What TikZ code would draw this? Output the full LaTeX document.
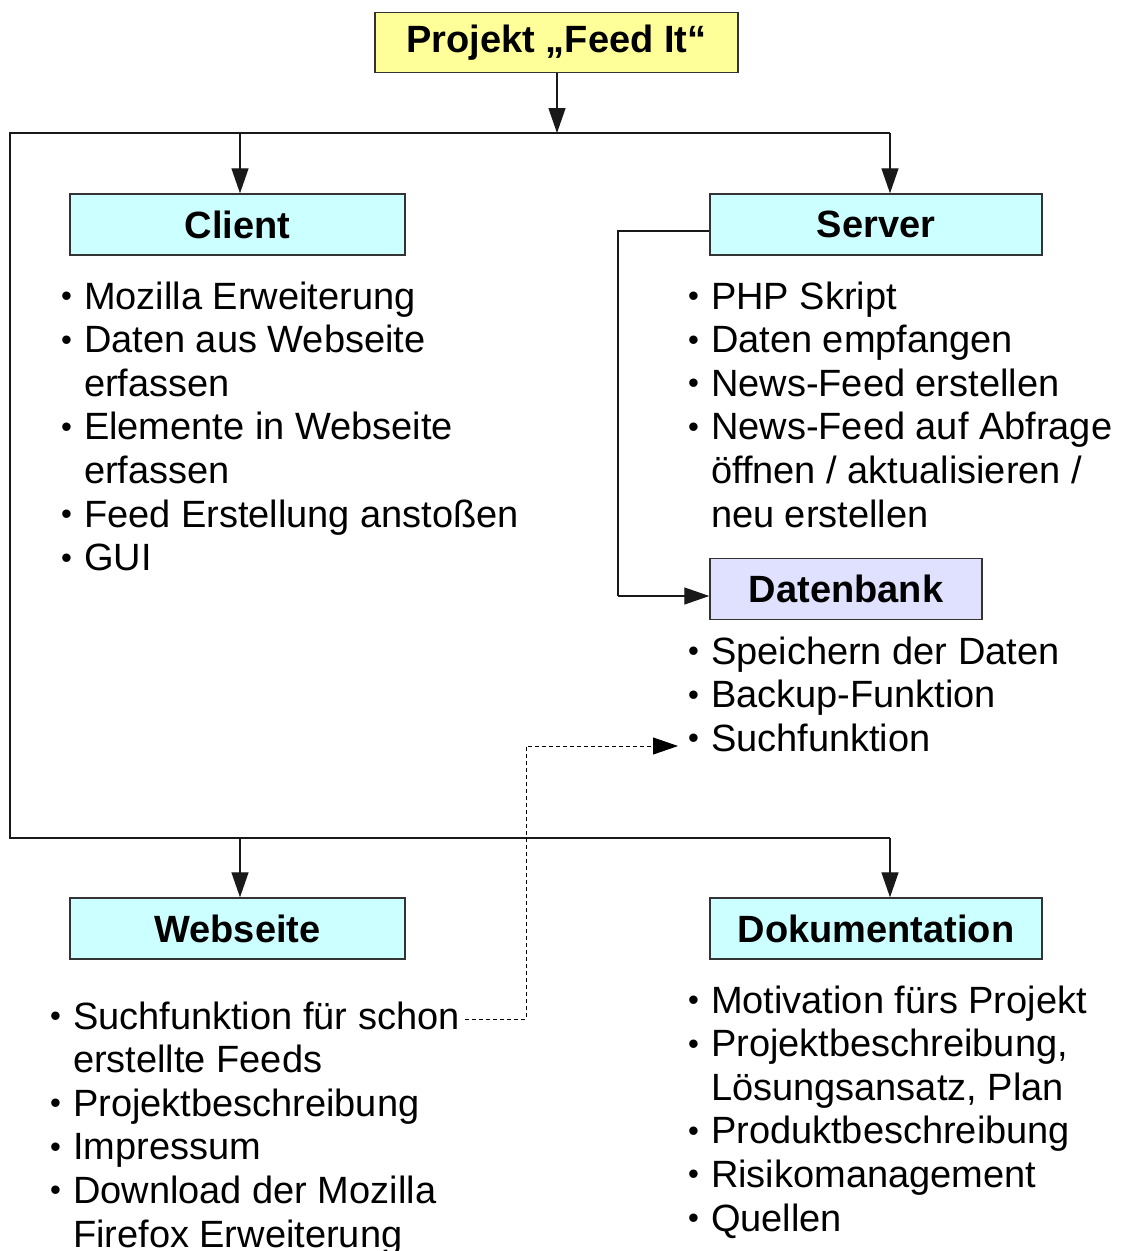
\documentclass[tikz,border=0pt]{standalone}
\usepackage{fontspec}
\setmainfont{Liberation Sans}
\usetikzlibrary{arrows.meta}
\definecolor{boxcyan}{HTML}{CCFFFF}
\definecolor{boxyellow}{HTML}{FFFF99}
\definecolor{boxlav}{HTML}{E0E0FF}
\definecolor{edge}{HTML}{333333}
\newcommand\bdot{\hspace*{2pt}\raisebox{2.5pt}{\fontsize{31}{31}\selectfont •}}
\newcommand\bitem[1]{\hbox{\makebox[25pt][l]{\bdot}#1}}
\newcommand\bcont[1]{\hbox{\hspace*{25pt}#1}}
\begin{document}
\begin{tikzpicture}[x=1pt,y=-1pt,
  hbox/.style={draw=edge, line width=1.4pt, inner sep=0pt, minimum height=61pt,
    font=\fontsize{38}{44}\selectfont\bfseries},
  lst/.style={anchor=base west, inner sep=0pt, outer sep=0pt,
    font=\fontsize{38}{43.6}\selectfont},
  conn/.style={line width=1.3pt, draw=black!90},
  arr/.style={conn, -{Triangle[length=25pt,width=17pt]}},
  darr/.style={line width=0.9pt, dash pattern=on 4pt off 3pt, -{Triangle[length=25pt,width=17pt]}}]
\useasboundingbox (0,0) rectangle (1122,1251);

% boxes
\node[hbox, fill=boxyellow, minimum width=363pt, minimum height=60pt] (title) at (556.5,42.5) {Projekt „Feed It“};
\node[hbox, fill=boxcyan, minimum width=335pt] (client) at (237.5,224.5) {Client};
\node[hbox, fill=boxcyan, minimum width=332pt] (server) at (876,224.5) {Server};
\node[hbox, fill=boxlav, minimum width=272pt] (db) at (846,589) {Datenbank};
\node[hbox, fill=boxcyan, minimum width=335pt] (web) at (237.5,928.5) {Webseite};
\node[hbox, fill=boxcyan, minimum width=332pt] (doku) at (876,928.5) {Dokumentation};

% lists
\node[lst] (clientlist) at (59,309) {\vtop{%
  \bitem{Mozilla Erweiterung}
  \bitem{Daten aus Webseite}
  \bcont{erfassen}
  \bitem{Elemente in Webseite}
  \bcont{erfassen}
  \bitem{Feed Erstellung anstoßen}
  \bitem{GUI}}};
\node[lst] (serverlist) at (686,309) {\vtop{%
  \bitem{PHP Skript}
  \bitem{Daten empfangen}
  \bitem{News-Feed erstellen}
  \bitem{News-Feed auf Abfrage}
  \bcont{öffnen / aktualisieren /}
  \bcont{neu erstellen}}};
\node[lst] (dblist) at (686,664) {\vtop{%
  \bitem{Speichern der Daten}
  \bitem{Backup-Funktion}
  \bitem{Suchfunktion}}};
\node[lst] (weblist) at (48,1029) {\vtop{%
  \bitem{Suchfunktion für schon}
  \bcont{erstellte Feeds}
  \bitem{Projektbeschreibung}
  \bitem{Impressum}
  \bitem{Download der Mozilla}
  \bcont{Firefox Erweiterung}}};
\node[lst] (dokulist) at (686,1013) {\vtop{%
  \bitem{Motivation fürs Projekt}
  \bitem{Projektbeschreibung,}
  \bcont{Lösungsansatz, Plan}
  \bitem{Produktbeschreibung}
  \bitem{Risikomanagement}
  \bitem{Quellen}}};

% tree coordinates
\coordinate (top) at (557,133);
\coordinate (tl) at (10,133);
\coordinate (tr) at (890,133);
\coordinate (tc) at (240,133);
\coordinate (bl) at (10,838);
\coordinate (br) at (890,838);
\coordinate (bc) at (240,838);
\coordinate (sbend) at (618,231);
\coordinate (dbend) at (618,596);
\coordinate (dstart) at (465,1019);
\coordinate (dmid) at (526,1019);
\coordinate (dtop) at (526,746);
\coordinate (dend) at (678,746);

\draw[arr] (title.south -| top) -- (top);
\draw[conn] (tr) -- (tl) -- (bl) -- (br);
\draw[arr] (tc) -- (tc |- client.north);
\draw[arr] (tr) -- (tr |- server.north);
\draw[arr] (bc) -- (bc |- web.north);
\draw[arr] (br) -- (br |- doku.north);
\draw[conn] (server.west |- sbend) -- (sbend) -- (dbend);
\draw[arr] (dbend) -- (db.west |- dbend);
\draw[darr] (dstart) -- (dmid) -- (dtop) -- (dend);
\end{tikzpicture}
\end{document}
